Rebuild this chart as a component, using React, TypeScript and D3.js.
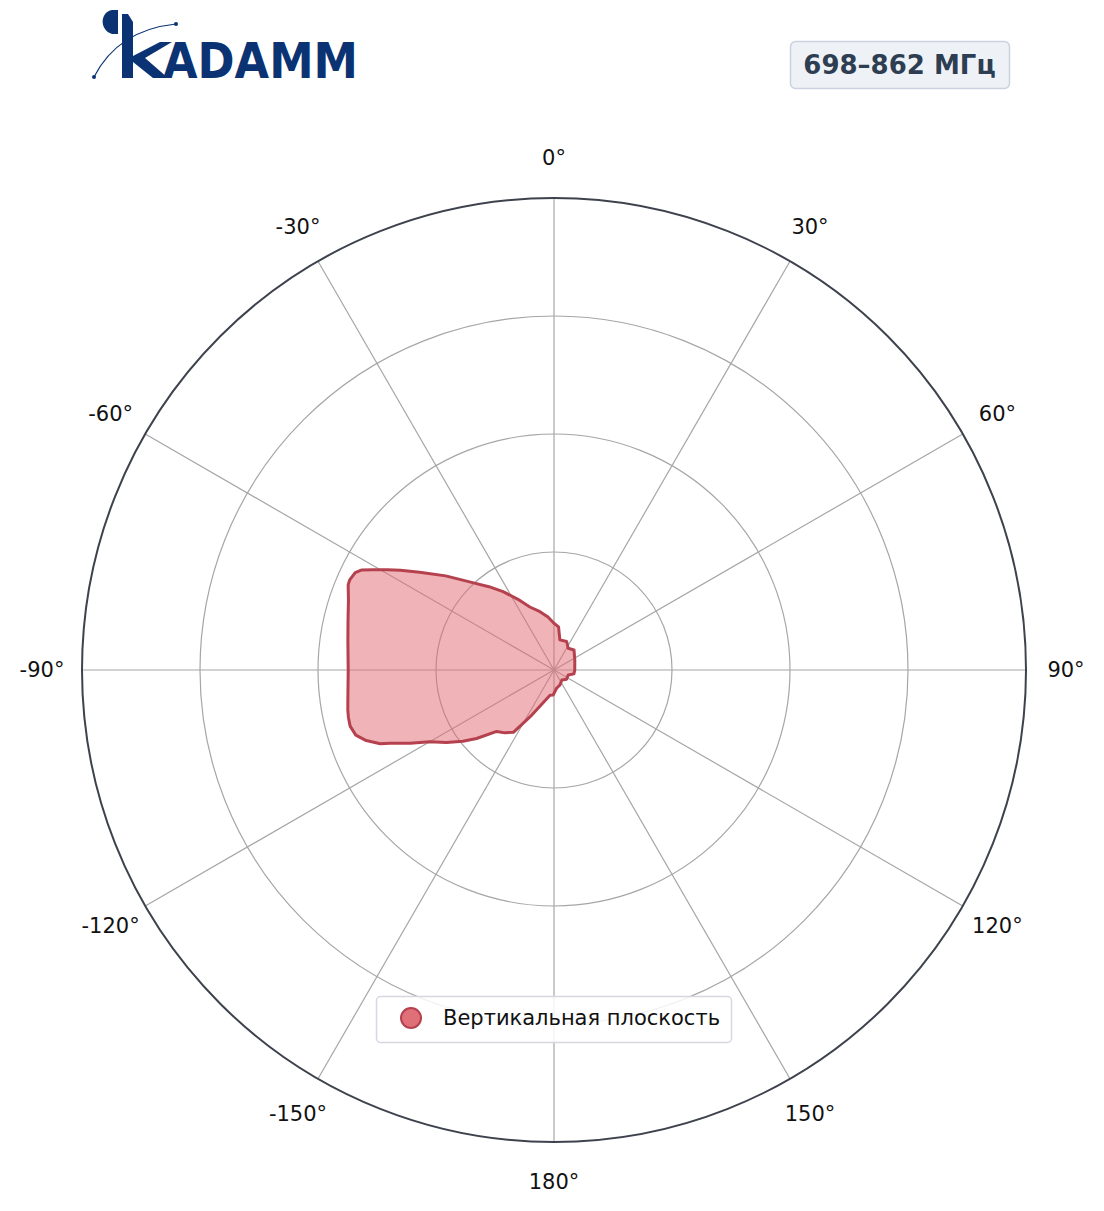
import React from "react";
import * as d3 from "d3";

// Vertical plane pattern, compass angle (deg, clockwise from top) and normalized gain
const angles = [
  0, 6, 11, 24, 33, 45, 64, 90, 101, 109, 126, 142, 158, 172, 182, 189, 207, 213, 218, 223,
  228.5, 232, 236, 240, 243, 246, 247, 249.4, 251.8, 254.6, 257, 259, 262, 270, 278, 283.6, 288.8,
  292.5, 293.8, 296.1, 297.5, 299, 301, 303, 306, 311, 317, 322, 327, 333, 339, 346.5, 353.5,
];
const gain = [
  0.099, 0.092, 0.065, 0.066, 0.055, 0.06, 0.049, 0.044, 0.043, 0.032, 0.033, 0.027, 0.034,
  0.039, 0.053, 0.054, 0.111, 0.157, 0.169, 0.178, 0.219, 0.245, 0.275, 0.304, 0.342, 0.381, 0.4,
  0.425, 0.442, 0.448, 0.447, 0.445, 0.441, 0.436, 0.441, 0.449, 0.46, 0.472, 0.473, 0.469,
  0.459, 0.438, 0.412, 0.388, 0.352, 0.304, 0.253, 0.224, 0.198, 0.168, 0.143, 0.127, 0.113,
];

const gridAngles = d3.range(0, 360, 30);
const angleLabels = ["0°", "30°", "60°", "90°", "120°", "150°", "180°", "-150°", "-120°", "-90°", "-60°", "-30°"];
const ringValues = [0.25, 0.5, 0.75];
const bandTitle = "698–862 МГц";
const seriesName = "Вертикальная плоскость";

const W = 1104;
const H = 1211;
const cx = 554;
const cy = 670;
const R = 472;
const font = "DejaVu Sans, sans-serif";

export default function App() {
  const r = d3.scaleLinear().domain([0, 1]).range([0, R]);
  const toRad = (deg: number) => (deg * Math.PI) / 180;

  const pts = angles.map((a, i) => [toRad(a), gain[i]] as [number, number]);
  const line = d3
    .lineRadial<[number, number]>()
    .angle((d) => d[0])
    .radius((d) => r(d[1]))
    .curve(d3.curveLinearClosed);

  const blue = "#0b3373";

  return (
    <svg width={W} height={H} style={{ display: "block", position: "absolute", left: 0, top: 0 }}>
      <rect width={W} height={H} fill="#fff" />

      {/* logo */}
      <g fill={blue}>
        <path d="M112,10 C100,12 99,30 112,34 L118,34 L118,10 Z" />
        <path d="M122,14 L128,14 L133,22 L133,78 L122,78 Z" />
        <path d="M133,56 L160,42 L172,42 L145,58 L168,78 L153,78 L133,62 Z" />
        <text
          x={163}
          y={78}
          fontFamily={font}
          fontWeight="bold"
          fontSize={49}
          textLength={195}
          lengthAdjust="spacingAndGlyphs"
        >
          ADAMM
        </text>
      </g>
      <path d="M94,77 Q118,30 176,24" fill="none" stroke={blue} strokeWidth={1.2} />
      <circle cx={94} cy={77} r={2} fill={blue} />
      <circle cx={176} cy={24} r={2} fill={blue} />

      {/* band box */}
      <rect x={790.5} y={41.5} width={219} height={47} rx={5} fill="#eef2f7" stroke="#c9d2de" strokeWidth={1.5} />
      <text x={899.5} y={74} textAnchor="middle" fontFamily={font} fontWeight="bold" fontSize={26} fill="#2e3e52">
        {bandTitle}
      </text>

      <g transform={`translate(${cx},${cy})`}>
        {ringValues.map((v) => (
          <circle key={v} r={r(v)} fill="none" stroke="#a6a6a6" strokeWidth={1.2} />
        ))}
        {gridAngles.map((a) => (
          <line
            key={a}
            x1={0}
            y1={0}
            x2={r(1) * Math.sin(toRad(a))}
            y2={-r(1) * Math.cos(toRad(a))}
            stroke="#a6a6a6"
            strokeWidth={1.2}
          />
        ))}

        <path
          d={line(pts) || ""}
          fill="#e26a72"
          fillOpacity={0.5}
          stroke="#b5414e"
          strokeWidth={3}
          strokeLinejoin="round"
        />

        <circle r={r(1)} fill="none" stroke="#3d424d" strokeWidth={2} />

        {gridAngles.map((a, i) => (
          <text
            key={a}
            x={512 * Math.sin(toRad(a))}
            y={-512 * Math.cos(toRad(a))}
            dy="0.35em"
            textAnchor="middle"
            fontFamily={font}
            fontSize={21}
            fill="#111"
          >
            {angleLabels[i]}
          </text>
        ))}
      </g>

      {/* legend */}
      <rect x={376.5} y={996.5} width={355} height={46} rx={4} fill="#fff" fillOpacity={0.85} stroke="#d5d8e0" strokeWidth={1.5} />
      <circle cx={411} cy={1018} r={10} fill="#e07078" stroke="#b5414e" strokeWidth={2} />
      <text x={443} y={1025} fontFamily={font} fontSize={21} fill="#111">
        {seriesName}
      </text>
    </svg>
  );
}
